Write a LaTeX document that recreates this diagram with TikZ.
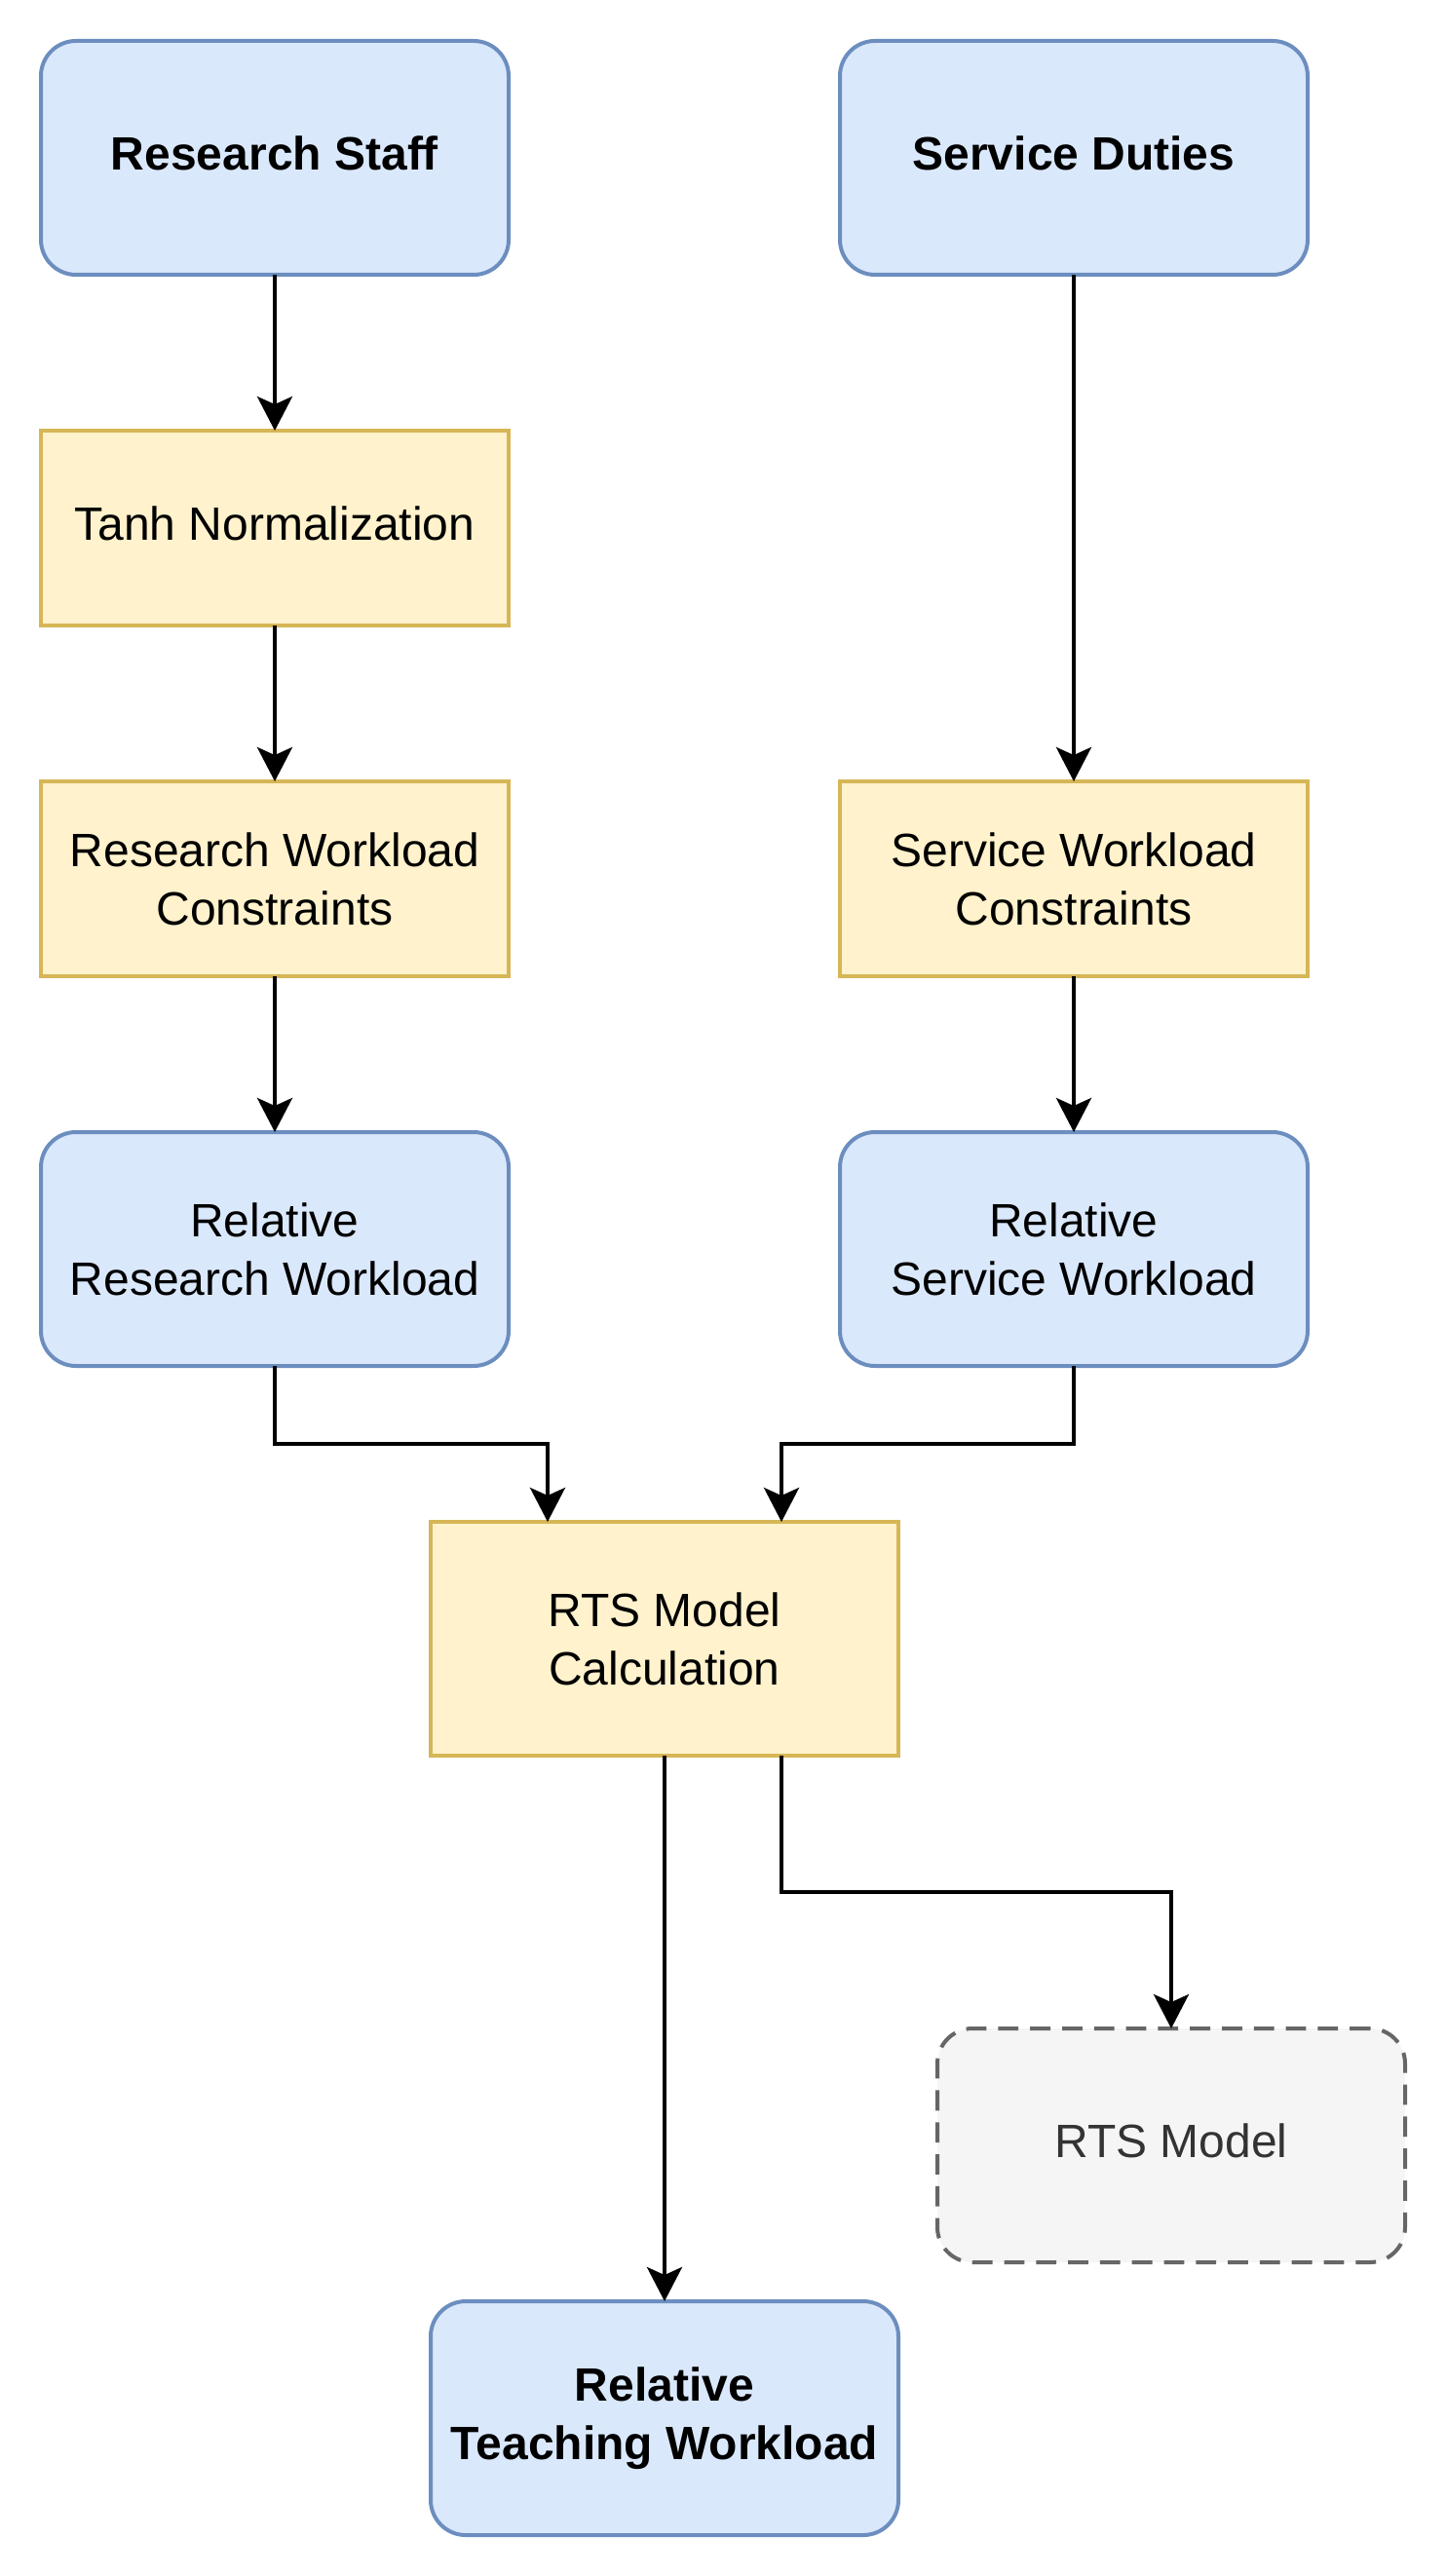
\documentclass[tikz,border=0pt]{standalone}
\usepackage{fontspec}
\setmainfont{Liberation Sans}
\usetikzlibrary{arrows.meta}
\definecolor{bfill}{HTML}{DAE8FC}
\definecolor{bline}{HTML}{6C8EBF}
\definecolor{yfill}{HTML}{FFF2CC}
\definecolor{yline}{HTML}{D6B656}
\definecolor{gfill}{HTML}{F5F5F5}
\definecolor{gline}{HTML}{666666}
\definecolor{gtext}{HTML}{333333}
\begin{document}
\begin{tikzpicture}[x=1pt,y=-1pt,
  box/.style={minimum width=120pt,minimum height=60pt,inner sep=0pt,outer sep=0pt,
    align=center,line width=1pt,font=\fontsize{12}{15}\selectfont},
  oneline/.style={text height=9pt,text depth=2.8pt},
  boldtext/.style={font=\fontsize{12}{15}\selectfont\bfseries},
  bluebox/.style={box,draw=bline,fill=bfill,rounded corners=9pt},
  yelbox/.style={box,draw=yline,fill=yfill},
  graybox/.style={box,draw=gline,fill=gfill,rounded corners=9pt,text=gtext,
    dash pattern=on 5.2pt off 3pt},
  arr/.style={line width=1pt,-{Stealth[length=8.75pt,width=9pt,inset=2pt]}}]
\useasboundingbox (0,0) rectangle (371,661);
\node[bluebox,boldtext,oneline] (rs) at (70.5,40.5) {Research Staff};
\node[bluebox,boldtext,oneline] (sd) at (275.5,40.5) {Service Duties};
\node[yelbox,oneline,minimum height=50pt] (tanh) at (70.5,135.5) {Tanh Normalization};
\node[yelbox,minimum height=50pt] (rwc) at (70.5,225.5) {Research Workload\\Constraints};
\node[yelbox,minimum height=50pt] (swc) at (275.5,225.5) {Service Workload\\Constraints};
\node[bluebox] (rrw) at (70.5,320.5) {Relative\\Research Workload};
\node[bluebox] (rsw) at (275.5,320.5) {Relative\\Service Workload};
\node[yelbox] (calc) at (170.5,420.5) {RTS Model\\Calculation};
\node[graybox,oneline] (rts) at (300.5,550.5) {RTS Model};
\node[bluebox,boldtext] (rtw) at (170.5,620.5) {Relative\\Teaching Workload};
\coordinate (c1) at ([xshift=30pt]calc.north west);
\coordinate (c2) at ([xshift=-30pt]calc.north east);
\coordinate (c3) at ([xshift=-30pt]calc.south east);
\draw[arr] (rs.south) -- (tanh.north);
\draw[arr] (tanh.south) -- (rwc.north);
\draw[arr] (sd.south) -- (swc.north);
\draw[arr] (rwc.south) -- (rrw.north);
\draw[arr] (swc.south) -- (rsw.north);
\draw[arr] (rrw.south) -- ++(0,20) -| (c1);
\draw[arr] (rsw.south) -- ++(0,20) -| (c2);
\draw[arr] (calc.south) -- (rtw.north);
\draw[arr] (c3) -- ++(0,35) -| (rts.north);
\end{tikzpicture}
\end{document}
